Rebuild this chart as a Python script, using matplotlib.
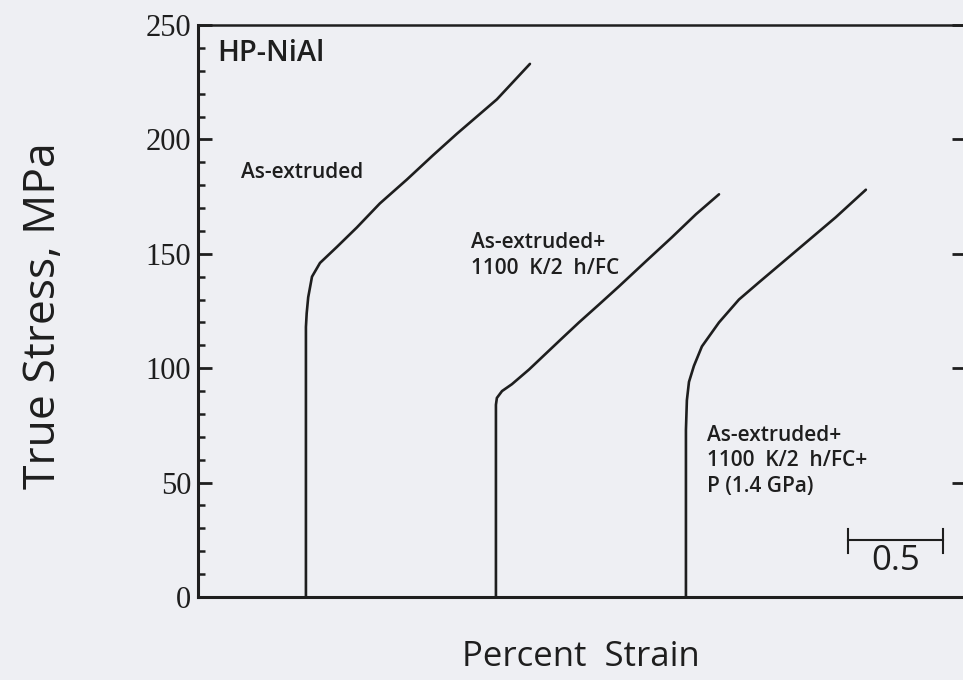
import numpy as np
import matplotlib
matplotlib.use('Agg')
import matplotlib.pyplot as plt
from matplotlib.ticker import MultipleLocator, NullLocator

# Stress-strain curves, strain in % measured from each curve's own origin
strain_ext = [0, 0, 0.004, 0.012, 0.032, 0.074, 0.163, 0.268, 0.389, 0.532, 0.668, 0.795, 0.879, 1.005, 1.179]
stress_ext = [0, 118, 124, 131, 140, 146, 153, 161.5, 172, 182.5, 193, 202.5, 208.5, 217.5, 233]

strain_fc = [0, 0, 0.005, 0.032, 0.084, 0.174, 0.263, 0.347, 0.437, 0.542, 0.647, 0.789, 0.926, 1.053, 1.174]
stress_fc = [0, 84, 87, 90, 93, 99.4, 106.4, 113, 120, 127.8, 135.7, 146.7, 157.2, 167.3, 176]

strain_p = [0, 0, 0.005, 0.016, 0.042, 0.084, 0.174, 0.279, 0.384, 0.505, 0.647, 0.789, 0.947]
stress_p = [0, 73, 86, 94, 101, 109.5, 120, 130, 137.5, 146, 156, 166, 178]

# curves are shifted along the strain axis so they don't overlap
offsets = [0.0, 1.0, 2.0]
curves = [(strain_ext, stress_ext), (strain_fc, stress_fc), (strain_p, stress_p)]
labels = ['As-extruded',
          'As-extruded+\n1100  K/2  h/FC',
          'As-extruded+\n1100  K/2  h/FC+\nP (1.4 GPa)']
label_pos = [(-0.342, 185.6), (0.868, 149.1), (2.11, 59.5)]

y_ticks = [0, 50, 100, 150, 200, 250]
scale_start, scale_len = 2.853, 0.5

paper = '#eeeff3'
ink = '#1e1e1e'
sans = ['Open Sans', 'DejaVu Sans']

fig = plt.figure(figsize=(9.63, 6.8), dpi=100, facecolor=paper)
ax = fig.add_axes([198 / 963, 83 / 680, 768 / 963, 572 / 680])
ax.set_facecolor(paper)

for off, (eps, sig) in zip(offsets, curves):
    ax.plot(np.array(eps) + off, sig, color=ink, lw=1.9, solid_capstyle='round',
            solid_joinstyle='round')

for txt, (x, y) in zip(labels, label_pos):
    ax.text(x, y, txt, fontsize=15, family=sans, weight='semibold', color=ink,
            ha='left', va='center', linespacing=1.3)

ax.text(-0.468, 237.7, 'HP-NiAl', fontsize=21, family=sans, weight='semibold',
        color=ink, ha='left', va='center')

# 0.5 % strain scale bar
ax.plot([scale_start, scale_start + scale_len], [25, 25], color=ink, lw=1.5)
for xe in (scale_start, scale_start + scale_len):
    ax.plot([xe, xe], [19.2, 29.8], color=ink, lw=1.5)
ax.text(scale_start + scale_len / 2, 15.6, '0.5', fontsize=25, family=sans, color=ink,
        ha='center', va='center')

ax.set_xlim(-0.568, 3.474)
ax.set_ylim(0, 250)
ax.xaxis.set_major_locator(NullLocator())
ax.set_yticks(y_ticks)
ax.yaxis.set_minor_locator(MultipleLocator(10))
ax.tick_params(axis='y', which='major', direction='in', length=10, width=2, colors=ink,
               right=True, labelsize=22, pad=5)
ax.tick_params(axis='y', which='minor', direction='in', length=5, width=1.8, colors=ink)
for lab in ax.get_yticklabels():
    lab.set_family('Liberation Serif')
for side, w in [('left', 2.2), ('bottom', 2.2), ('top', 1.8), ('right', 1.8)]:
    ax.spines[side].set_linewidth(w)
    ax.spines[side].set_color(ink)

fig.text(44 / 963, 1 - 316 / 680, 'True Stress, MPa', rotation=90, fontsize=32,
         family=sans, color=ink, ha='center', va='center')
fig.text(581 / 963, 1 - 657 / 680, 'Percent  Strain', fontsize=25, family=sans,
         color=ink, ha='center', va='center')

fig.savefig('out.png', dpi=100, facecolor=paper)
